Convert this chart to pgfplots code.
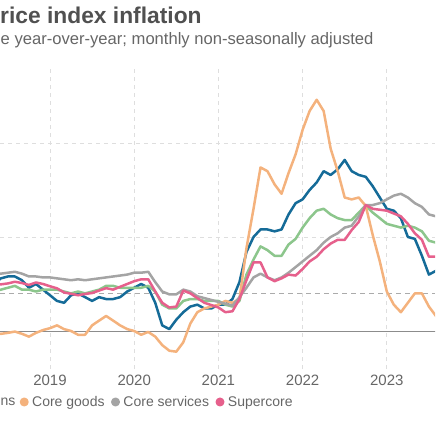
\documentclass[border=0pt]{standalone}
\usepackage{fontspec}
\setmainfont{Liberation Sans}
\usepackage{pgfplots}
\pgfplotsset{compat=1.18}
\usepackage{pgfplotstable}

\definecolor{cblue}{RGB}{21,107,152}
\definecolor{corange}{RGB}{244,178,125}
\definecolor{cgreen}{RGB}{140,198,140}
\definecolor{cgray}{RGB}{164,164,164}
\definecolor{cpink}{RGB}{230,96,140}
\definecolor{ctitle}{RGB}{80,80,80}
\definecolor{ctext}{RGB}{102,102,102}

% t = year + month/12 (value plotted at end of month)
\pgfplotstableread{
t        all  core  goods  serv  super
2018.333 2.5  2.1   -0.1   3.0   2.5
2018.417 2.8  2.2   -0.15  3.05  2.48
2018.500 2.9  2.3   -0.1   3.1   2.53
2018.583 2.9  2.4   -0.03  3.15  2.62
2018.667 2.7  2.2   -0.15  3.05  2.55
2018.750 2.3  2.2   -0.3   2.9   2.45
2018.833 2.5  2.1   -0.1   2.9   2.58
2018.917 2.2  2.2   0.05   2.85  2.5
2019.000 1.9  2.2   0.15   2.85  2.38
2019.083 1.6  2.2   0.3    2.8   2.27
2019.167 1.5  2.1   0.1    2.75  2.05
2019.250 1.9  2.0   0.0    2.7   1.98
2019.333 2.0  2.1   -0.2   2.75  1.9
2019.417 1.8  2.0   -0.2   2.7   1.97
2019.500 1.6  2.1   0.3    2.75  2.02
2019.583 1.8  2.2   0.55   2.8   2.15
2019.667 1.7  2.4   0.8    2.85  2.28
2019.750 1.7  2.4   0.55   2.9   2.2
2019.833 1.8  2.3   0.3    2.95  2.35
2019.917 2.1  2.3   0.1    3.0   2.5
2020.000 2.3  2.3   0.0    3.1   2.65
2020.083 2.5  2.3   -0.2   3.1   2.75
2020.167 2.3  2.4   -0.05  3.15  2.75
2020.250 1.5  2.1   -0.3   2.6   2.1
2020.333 0.3  1.4   -0.75  2.1   1.5
2020.417 0.1  1.2   -1.05  1.95  1.25
2020.500 0.6  1.2   -1.1   1.95  1.3
2020.583 1.0  1.6   -0.6   2.2   2.15
2020.667 1.3  1.7   0.4    2.1   2.0
2020.750 1.4  1.7   1.0    1.85  1.75
2020.833 1.2  1.6   1.2    1.75  1.5
2020.917 1.2  1.6   1.3    1.65  1.38
2021.000 1.4  1.6   1.4    1.55  1.25
2021.083 1.4  1.4   1.6    1.45  1.0
2021.167 1.7  1.3   1.5    1.35  1.05
2021.250 2.6  1.6   1.7    1.8   1.7
2021.333 4.2  3.0   4.4    2.3   2.7
2021.417 5.0  3.8   6.5    2.85  3.65
2021.500 5.4  4.5   8.7    3.05  3.65
2021.583 5.4  4.3   8.5    2.85  2.85
2021.667 5.3  4.0   7.8    2.7   2.65
2021.750 5.4  4.0   7.3    2.85  2.8
2021.833 6.2  4.6   8.4    3.1   3.0
2021.917 6.8  4.9   9.4    3.4   2.95
2022.000 7.0  5.5   10.7   3.7   3.3
2022.083 7.5  6.0   11.7   4.0   3.7
2022.167 7.9  6.4   12.3   4.3   3.95
2022.250 8.5  6.5   11.7   4.7   4.35
2022.333 8.3  6.2   9.7    5.0   4.65
2022.417 8.6  6.0   8.5    5.2   4.85
2022.500 9.1  5.9   7.1    5.5   4.85
2022.583 8.5  5.9   7.0    5.6   5.37
2022.667 8.3  6.3   7.1    6.1   5.8
2022.750 8.2  6.68  6.65   6.7   6.7
2022.833 7.7  6.3   5.1    6.7   6.5
2022.917 7.1  6.0   3.7    6.8   6.45
2023.000 6.5  5.7   2.1    7.0   6.4
2023.083 6.4  5.6   1.4    7.2   6.25
2023.167 6.0  5.5   1.0    7.3   6.1
2023.250 5.0  5.6   1.5    7.1   5.7
2023.333 4.9  5.5   2.0    6.8   5.2
2023.417 4.0  5.3   2.0    6.6   4.85
2023.500 3.0  4.8   1.3    6.2   3.95
2023.583 3.2  4.7   0.8    6.1   3.95
2023.667 3.7  4.3   0.2    5.9   4.0
2023.750 3.7  4.1   0.0    5.7   4.1
}\cpi

\begin{document}
\begin{tikzpicture}
\useasboundingbox (0,0) rectangle (435pt,435pt);
\clip (0,0) rectangle (435pt,435pt);
\node[anchor=base west, inner sep=0pt, text=ctitle, font=\fontsize{22.8pt}{26pt}\selectfont\bfseries] at (0pt,411.5pt) {rice index inflation};
\node[anchor=base west, inner sep=0pt, text=ctext, font=\fontsize{16.6pt}{20pt}\selectfont] at (0.5pt,390pt) {e year-over-year; monthly non-seasonally adjusted};
\node[anchor=base west, inner sep=0pt, text=ctext, font=\fontsize{14pt}{16pt}\selectfont] at (0.5pt,29pt) {ns};
\begin{axis}[
  scale only axis, width=435pt, height=300.8pt,
  at={(0pt,66.4pt)}, anchor=south west,
  xmin=2018.4062, xmax=2023.5725, ymin=-2, ymax=14,
  axis line style={draw=none}, tick style={draw=none},
  xtick={2019,2020,2021,2022,2023},
  xticklabels={2019,2020,2021,2022,2023},
  xticklabel style={font=\fontsize{15pt}{17pt}\selectfont, text=ctext, anchor=base, yshift=-17.4pt},
  ytick={5,10}, yticklabels={},
  extra y ticks={2}, extra y tick labels={},
  extra y tick style={grid=major, major grid style={color=black!33, dash pattern=on 5pt off 4pt, line width=0.9pt}},
  grid=major,
  major grid style={color=black!13, dash pattern=on 4pt off 4pt, line width=0.8pt},
  legend columns=-1,
  legend image code/.code={\fill[#1] (0pt,0pt) circle (3.2pt);},
  legend style={draw=none, fill=none, inner sep=0pt, outer sep=0pt,
    at={(0.0455,-0.111)}, anchor=west,
    font=\fontsize{14pt}{16pt}\selectfont, text=ctext,
    nodes={inner sep=0pt},
    /tikz/every odd column/.append style={column sep=3.5pt},
    /tikz/every even column/.append style={column sep=6.5pt}},
  every axis plot/.append style={line width=2.5pt, line join=round},
]
\addplot[forget plot, color=black!45, line width=0.9pt] coordinates {(2018,0) (2024,0)};
\addplot[forget plot, cblue] table[x=t, y=all] {\cpi};
\addplot[forget plot, cgreen] table[x=t, y=core] {\cpi};
\addplot[corange] table[x=t, y=goods] {\cpi};
\addlegendentry{Core goods}
\addplot[cgray] table[x=t, y=serv] {\cpi};
\addlegendentry{Core services}
\addplot[cpink] table[x=t, y=super] {\cpi};
\addlegendentry{Supercore}
\end{axis}
\end{tikzpicture}
\end{document}
